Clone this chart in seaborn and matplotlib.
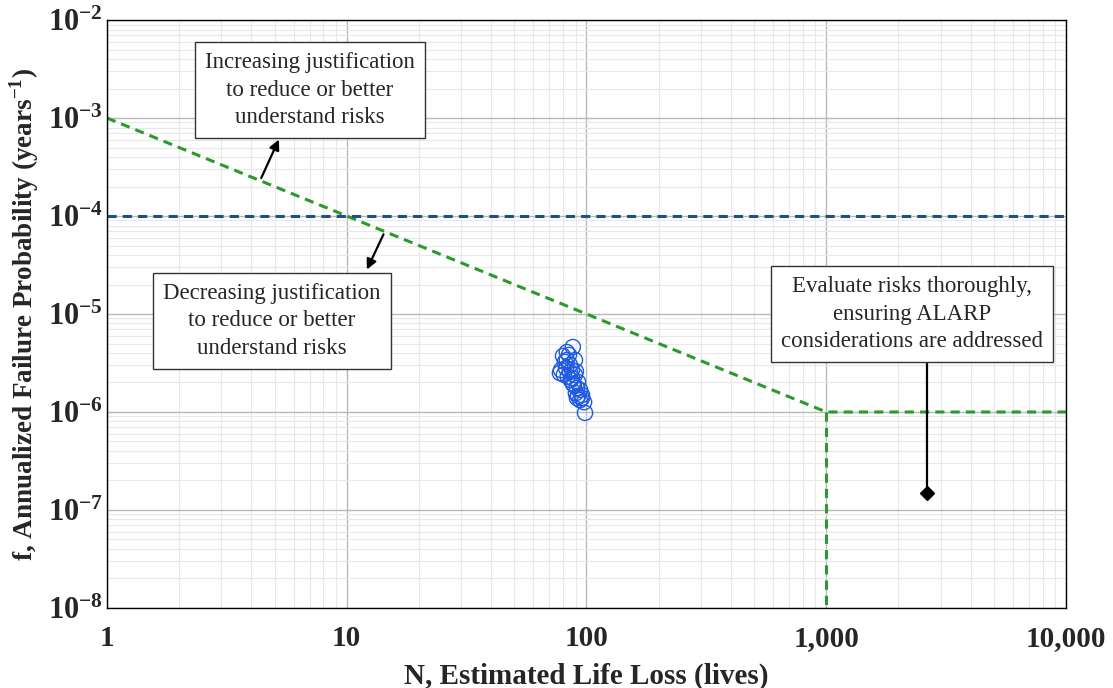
import numpy as np
import pandas as pd
import seaborn as sns
import matplotlib.pyplot as plt
from matplotlib.ticker import FixedLocator, LogLocator, NullFormatter

# estimated life loss vs annualized failure probability
life_loss = [87.7, 82.8, 79.8, 78.3, 77.5, 82.8, 85.3, 86.9, 89.5, 86.1,
             88.6, 91.2, 90.3, 92.2, 94.0, 95.8, 97.7, 91.2, 94.0, 81.3,
             84.5, 86.9, 82.1, 89.5, 98.6, 95.8, 92.2, 85.3, 80.5, 83.5,
             87.7, 90.3]
fail_prob = [4.60e-6, 4.09e-6, 3.73e-6, 2.68e-6, 2.50e-6, 3.39e-6, 3.02e-6, 2.68e-6, 2.39e-6, 2.12e-6,
             1.89e-6, 1.76e-6, 1.56e-6, 1.46e-6, 1.32e-6, 1.39e-6, 1.26e-6, 1.39e-6, 1.68e-6, 3.24e-6,
             3.82e-6, 2.22e-6, 2.81e-6, 3.39e-6, 9.8e-7, 1.49e-6, 2.02e-6, 2.56e-6, 2.40e-6, 2.30e-6,
             1.95e-6, 2.60e-6]

# guideline
limit_n = [1, 1000, 10000]
limit_f = [1e-3, 1e-6, 1e-6]
vert_n = [1000, 1000]
vert_f = [1e-6, 1e-8]
tolerable_f = 1e-4

x_ticks = [1, 10, 100, 1000, 10000]
x_labels = ["1", "10", "100", "1,000", "10,000"]
y_ticks = [1e-8, 1e-7, 1e-6, 1e-5, 1e-4, 1e-3, 1e-2]
y_labels = [r"$\mathbf{10^{%d}}$" % e for e in range(-8, -1)]

sns.set_style("white")
plt.rcParams["font.family"] = ["Liberation Serif", "DejaVu Serif"]
plt.rcParams["mathtext.fontset"] = "custom"
plt.rcParams["mathtext.rm"] = "Liberation Serif"
plt.rcParams["mathtext.bf"] = "Liberation Serif:bold"

fig = plt.figure(figsize=(11.13, 6.88), dpi=100)
ax = fig.add_axes([0.0961, 0.1163, 0.8617, 0.8546])
ax.set_xscale("log")
ax.set_yscale("log")
ax.set_xlim(1, 10000)
ax.set_ylim(1e-8, 1e-2)

ax.grid(True, which="major", color="#b8b8b8", lw=1.0)
ax.grid(True, which="minor", color="#e8e8e8", lw=0.8)
ax.set_axisbelow(True)

green = "#2a9a2a"
ax.plot(limit_n, limit_f, color=green, lw=2.2, ls=(0, (3, 2)))
ax.plot(vert_n, vert_f, color=green, lw=2.2, ls=(0, (3, 2)))
ax.axhline(tolerable_f, color="#1f4e8f", lw=2.2, ls=(0, (3, 2)))

df = pd.DataFrame({"N": life_loss, "f": fail_prob})
sns.scatterplot(data=df, x="N", y="f", ax=ax, marker="o", s=120,
                facecolors="none", edgecolor="#1f5ae0", linewidth=1.0, zorder=3)

box = dict(boxstyle="square,pad=0.45", fc="white", ec="#333333", lw=1)
tkw = dict(ha="center", va="center", fontsize=16.5, linespacing=1.4, bbox=box)
arrow = dict(arrowstyle="-|>", color="black", lw=1.6, mutation_scale=15)

ax.text(7.03, 1.93e-3, "Increasing justification\nto reduce or better\nunderstand risks", **tkw)
ax.annotate("", xy=(5.27, 6.4e-4), xytext=(4.35, 2.3e-4), arrowprops=arrow)

ax.text(4.88, 8.5e-6, "Decreasing justification\nto reduce or better\nunderstand risks", **tkw)
ax.annotate("", xy=(12.0, 2.68e-5), xytext=(14.4, 6.9e-5), arrowprops=arrow)

ax.text(2280, 1.0e-5, "Evaluate risks thoroughly,\nensuring ALARP\nconsiderations are addressed", **tkw)
ax.plot([2630, 2630], [1.5e-7, 4.5e-6], color="black", lw=1.6, zorder=2)
ax.plot([2630], [1.5e-7], marker="D", color="black", ms=7, zorder=4)

ax.xaxis.set_major_locator(FixedLocator(x_ticks))
ax.set_xticklabels(x_labels)
ax.yaxis.set_major_locator(FixedLocator(y_ticks))
ax.set_yticklabels(y_labels)
ax.xaxis.set_minor_locator(LogLocator(base=10, subs=np.arange(2, 10), numticks=20))
ax.yaxis.set_minor_locator(LogLocator(base=10, subs=np.arange(2, 10), numticks=20))
ax.xaxis.set_minor_formatter(NullFormatter())
ax.yaxis.set_minor_formatter(NullFormatter())
ax.tick_params(axis="x", which="major", labelsize=21, direction="in", length=6, pad=12)
ax.tick_params(axis="y", which="major", labelsize=22, direction="in", length=6, pad=3)
ax.tick_params(axis="both", which="minor", direction="in", length=3)
for lab in ax.get_xticklabels():
    lab.set_fontweight("bold")

for s in ax.spines.values():
    s.set_color("black")
    s.set_linewidth(1.0)

ax.set_xlabel("N, Estimated Life Loss (lives)", fontsize=21, fontweight="bold", labelpad=8)
ax.set_ylabel(r"f, Annualized Failure Probability (years$^{\mathbf{-1}}$)", fontsize=19.5,
              fontweight="bold", labelpad=5)

fig.savefig("out.png", dpi=100)
